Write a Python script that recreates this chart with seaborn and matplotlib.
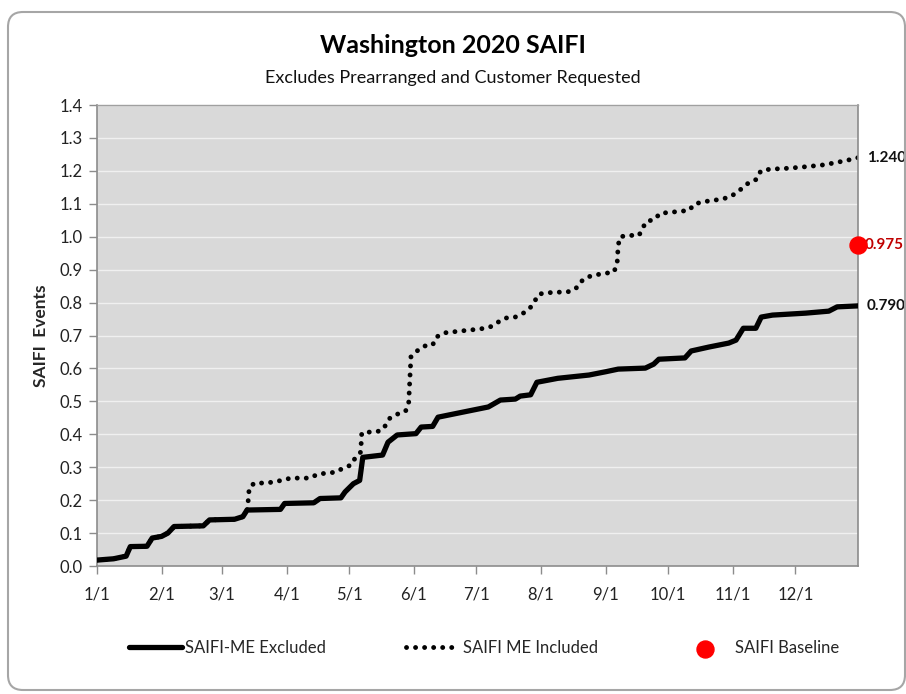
import matplotlib
matplotlib.use("Agg")
import matplotlib.pyplot as plt
from matplotlib.patches import FancyBboxPatch
import pandas as pd
import seaborn as sns


# day of year (2020, 1/1 = 0) and cumulative SAIFI
excl_day = [0, 8, 14, 16, 24, 26.5, 31, 34, 37, 51, 54, 66, 70, 72, 88, 90, 104,
            107, 117, 119, 123, 126, 127.5, 137, 139.6, 144, 153, 155.5, 161,
            163.6, 176, 187.7, 193.5, 200.7, 203, 208, 211, 221, 236, 244, 250,
            263, 267, 269.5, 282, 285, 293.5, 303, 306.5, 310, 316, 318.6, 324,
            340, 351, 355, 365]
excl_val = [0.018, 0.022, 0.030, 0.059, 0.060, 0.085, 0.090, 0.100, 0.120, 0.122,
            0.140, 0.142, 0.150, 0.170, 0.172, 0.190, 0.192, 0.205, 0.207, 0.225,
            0.250, 0.260, 0.330, 0.337, 0.376, 0.398, 0.402, 0.422, 0.424, 0.452,
            0.468, 0.483, 0.504, 0.507, 0.516, 0.520, 0.558, 0.570, 0.580, 0.590,
            0.598, 0.601, 0.613, 0.628, 0.632, 0.653, 0.665, 0.677, 0.686, 0.722,
            0.722, 0.756, 0.762, 0.768, 0.774, 0.787, 0.790]

incl_day = [0, 8, 14, 16, 24, 26.5, 31, 34, 37, 51, 54, 66, 70, 72, 72.7, 73,
            75.5, 80, 85, 89, 93, 102, 106, 110, 114.5, 118, 122, 124, 126.5, 127,
            131, 136, 138.6, 140.5, 144, 148, 149.5, 150.6, 153.5, 157, 161, 162.7,
            166.5, 175, 184, 188.6, 192.5, 196, 200.6, 204.5, 208, 210, 212, 216.5,
            226, 229.6, 232, 235, 239, 243, 248, 249.5, 250, 251, 255, 260, 261.6,
            263.5, 267.6, 270, 279.5, 284, 286.5, 290.6, 299.5, 303.7, 307, 310,
            312.8, 316.3, 318.4, 322.7, 331.7, 340.8, 349.7, 354, 358.5, 365]
incl_val = [0.018, 0.022, 0.030, 0.059, 0.060, 0.085, 0.090, 0.100, 0.120, 0.122,
            0.140, 0.142, 0.150, 0.170, 0.207, 0.237, 0.252, 0.252, 0.255, 0.261,
            0.267, 0.267, 0.279, 0.282, 0.285, 0.297, 0.307, 0.330, 0.346, 0.404,
            0.407, 0.410, 0.428, 0.449, 0.461, 0.470, 0.494, 0.635, 0.653, 0.668,
            0.671, 0.695, 0.708, 0.714, 0.720, 0.726, 0.741, 0.753, 0.756, 0.768,
            0.786, 0.805, 0.826, 0.830, 0.833, 0.842, 0.863, 0.877, 0.884, 0.888,
            0.893, 0.920, 0.975, 1.000, 1.004, 1.004, 1.025, 1.046, 1.053, 1.071,
            1.077, 1.080, 1.099, 1.106, 1.114, 1.121, 1.135, 1.150, 1.165, 1.174,
            1.200, 1.205, 1.208, 1.213, 1.219, 1.225, 1.230, 1.240]

baseline_day = [365]
baseline_val = [0.975]

month_days = [0, 31, 60, 91, 121, 152, 182, 213, 244, 274, 305, 335]
month_labels = ["1/1", "2/1", "3/1", "4/1", "5/1", "6/1", "7/1", "8/1", "9/1",
                "10/1", "11/1", "12/1"]

excl_df = pd.DataFrame({"day": excl_day, "SAIFI": excl_val})
incl_df = pd.DataFrame({"day": incl_day, "SAIFI": incl_val})
base_df = pd.DataFrame({"day": baseline_day, "SAIFI": baseline_val})

sns.set_theme(style="whitegrid", rc={
    "axes.facecolor": "#d9d9d9",
    "grid.color": "#f0f0f0",
    "grid.linewidth": 1.0,
    "axes.edgecolor": "#8c8c8c",
})
plt.rcParams["font.family"] = ["Lato", "DejaVu Sans"]

fig = plt.figure(figsize=(9.06, 6.94), dpi=100)
ax = fig.add_axes([0.107, 0.1844, 0.840, 0.6643])

sns.lineplot(data=incl_df, x="day", y="SAIFI", ax=ax, color="black", lw=3.5,
             linestyle=(0, (0.01, 1.85)), dash_capstyle="round",
             label="SAIFI ME Included", zorder=2)
sns.lineplot(data=excl_df, x="day", y="SAIFI", ax=ax, color="black", lw=3.8,
             label="SAIFI-ME Excluded", zorder=3)
sns.scatterplot(data=base_df, x="day", y="SAIFI", ax=ax, color="#ff0000", s=150,
                edgecolor="#ff0000", label="SAIFI Baseline", zorder=4, clip_on=False)

ax.set_xlim(0, 365)
ax.set_ylim(0, 1.4)
ax.set_yticks([i / 10 for i in range(15)])
ax.set_yticklabels([f"{i / 10:.1f}" for i in range(15)], fontsize=12, color="#222222")
ax.set_xticks(month_days)
ax.set_xticklabels(month_labels, fontsize=12, color="#222222")
ax.grid(axis="x", visible=False)
ax.tick_params(axis="both", which="major", direction="out", length=6, width=1,
               color="#8c8c8c", left=True, bottom=True)
ax.tick_params(axis="y", pad=4)
ax.tick_params(axis="x", pad=9)
ax.set_xlabel("")
ax.set_ylabel("SAIFI  Events", fontsize=12.5, fontweight="bold", labelpad=8)
for side in ["left", "bottom", "right"]:
    ax.spines[side].set_color("#8c8c8c")
    ax.spines[side].set_linewidth(1.2)
ax.spines["top"].set_color("#a0a0a0")
ax.spines["top"].set_linewidth(1.0)

ax.annotate(f"{incl_val[-1]:.3f}", xy=(incl_day[-1], incl_val[-1]), xytext=(9, 0),
            textcoords="offset pixels", va="center", ha="left", fontsize=11,
            fontweight="bold", color="#111111", annotation_clip=False)
ax.annotate(f"{baseline_val[0]:.3f}", xy=(baseline_day[0], baseline_val[0]), xytext=(7, 0),
            textcoords="offset pixels", va="center", ha="left", fontsize=11,
            fontweight="bold", color="#c00000", annotation_clip=False)
ax.annotate(f"{excl_val[-1]:.3f}", xy=(excl_day[-1], excl_val[-1]), xytext=(9, 0),
            textcoords="offset pixels", va="center", ha="left", fontsize=11,
            fontweight="bold", color="#111111", annotation_clip=False)

fig.text(0.5, 0.934, "Washington 2020 SAIFI", ha="center", va="center",
         fontsize=18, fontweight="bold", color="black")
fig.text(0.5, 0.887, "Excludes Prearranged and Customer Requested", ha="center",
         va="center", fontsize=13, color="#111111")

handles, labels = ax.get_legend_handles_labels()
order = [labels.index("SAIFI-ME Excluded"), labels.index("SAIFI ME Included"),
         labels.index("SAIFI Baseline")]
ax.legend_.remove()
fig.legend([handles[i] for i in order], [labels[i] for i in order],
           loc="center", bbox_to_anchor=(0.534, 0.066), ncol=3, frameon=False,
           fontsize=12, handlelength=3.2, handletextpad=0.2, columnspacing=4.8)

frame = FancyBboxPatch((0.08, 0.04), 8.97, 6.78, boxstyle="round,pad=0,rounding_size=0.15",
                       transform=fig.dpi_scale_trans, facecolor="none",
                       edgecolor="#a6a6a6", lw=1.5)
fig.patches.append(frame)

fig.savefig("out.png", dpi=100, facecolor="white")
